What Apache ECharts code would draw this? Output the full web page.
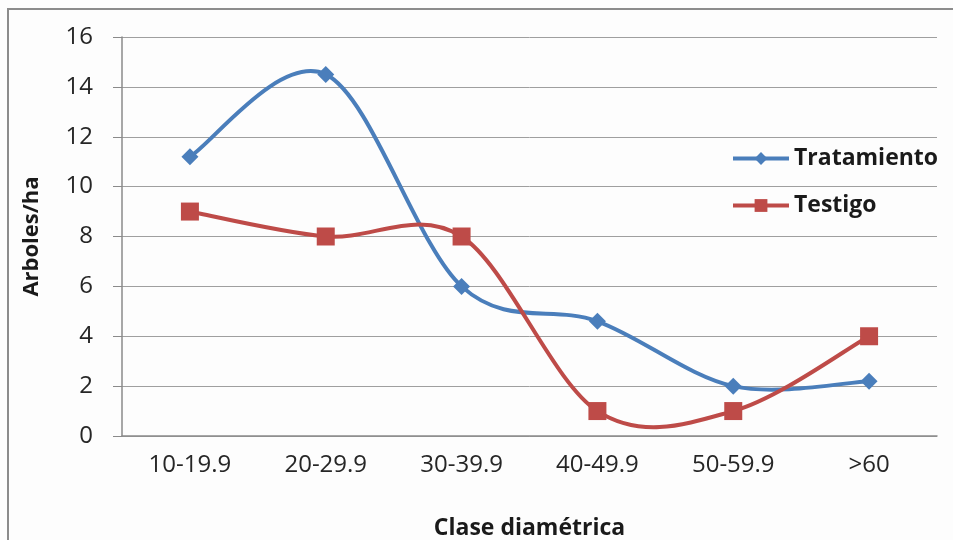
<!DOCTYPE html>
<html>
<head>
<meta charset="utf-8">
<script src="https://cdn.jsdelivr.net/npm/echarts@6/dist/echarts.min.js"></script>
<style>
  html, body { margin: 0; padding: 0; background: #fff; }
  #main { width: 953px; height: 540px; }
</style>
</head>
<body>
<div id="main"></div>
<script>
var categories = ['10-19.9', '20-29.9', '30-39.9', '40-49.9', '50-59.9', '>60'];
var tratamiento = [11.2, 14.5, 6, 4.6, 2, 2.2];
var testigo = [9, 8, 8, 1, 1, 4];

var blue = '#4a7ebb';
var red = '#be4b48';
var font = '"Open Sans", "Liberation Sans", sans-serif';

// excel-style smoothed curve: one bezier piece per segment
function curveSeries(name, values, color) {
  return {
    name: name + ' curve',
    type: 'custom',
    z: 2,
    silent: true,
    encode: { x: 0, y: 1 },
    data: values.map(function (v, i) { return [i, v]; }),
    renderItem: function (params, api) {
      var i = params.dataIndex;
      if (i >= values.length - 1) return null;
      var pts = values.map(function (v, k) { return api.coord([k, v]); });
      var p0 = pts[Math.max(i - 1, 0)];
      var p1 = pts[i];
      var p2 = pts[i + 1];
      var p3 = pts[Math.min(i + 2, pts.length - 1)];
      return {
        type: 'bezierCurve',
        shape: {
          x1: p1[0], y1: p1[1],
          x2: p2[0], y2: p2[1],
          cpx1: p1[0] + (p2[0] - p0[0]) / 6,
          cpy1: p1[1] + (p2[1] - p0[1]) / 6,
          cpx2: p2[0] - (p3[0] - p1[0]) / 6,
          cpy2: p2[1] - (p3[1] - p1[1]) / 6
        },
        style: { stroke: color, lineWidth: 4, fill: null }
      };
    }
  };
}

var chart = echarts.init(document.getElementById('main'));

chart.setOption({
  animation: false,
  backgroundColor: '#fdfdfd',
  textStyle: { fontFamily: font },
  graphic: [{
    type: 'rect',
    shape: { x: 8, y: 9, width: 1000, height: 600 },
    style: { fill: 'none', stroke: '#8c8c8c', lineWidth: 2 },
    silent: true
  }],
  grid: { left: 122, right: 16, top: 37, bottom: 104, outerBoundsMode: 'none' },
  legend: {
    orient: 'vertical',
    left: 726,
    top: 142,
    itemGap: 24,
    itemWidth: 56,
    itemHeight: 16,
    textStyle: { fontSize: 23, fontWeight: 'bold', color: '#1a1a1a', fontFamily: font },
    data: [
      { name: 'Tratamiento', lineStyle: { opacity: 1, width: 4 } },
      { name: 'Testigo', lineStyle: { opacity: 1, width: 4 } }
    ]
  },
  xAxis: {
    type: 'category',
    data: categories,
    name: 'Clase diamétrica',
    nameLocation: 'middle',
    nameGap: 81,
    nameTextStyle: { fontSize: 23, fontWeight: 'bold', color: '#1a1a1a' },
    axisLine: { lineStyle: { color: '#8a8a8a', width: 1.5 } },
    axisTick: { length: 8, lineStyle: { color: '#8a8a8a' } },
    axisLabel: { fontSize: 24, color: '#262626', margin: 17 }
  },
  yAxis: {
    type: 'value',
    min: 0,
    max: 16,
    interval: 2,
    name: 'Arboles/ha',
    nameLocation: 'middle',
    nameGap: 79,
    nameTextStyle: { fontSize: 22, fontWeight: 'bold', color: '#1a1a1a' },
    axisLine: { show: true, lineStyle: { color: '#8a8a8a', width: 1.5 } },
    axisTick: { show: true, length: 9, lineStyle: { color: '#8a8a8a' } },
    axisLabel: { fontSize: 24, color: '#262626', margin: 29 },
    splitLine: { lineStyle: { color: '#9f9f9f', width: 1 } }
  },
  series: [
    curveSeries('Tratamiento', tratamiento, blue),
    curveSeries('Testigo', testigo, red),
    {
      name: 'Tratamiento',
      type: 'line',
      z: 3,
      data: tratamiento,
      symbol: 'diamond',
      symbolSize: 17,
      lineStyle: { color: blue, width: 4, opacity: 0 },
      itemStyle: { color: blue }
    },
    {
      name: 'Testigo',
      type: 'line',
      z: 4,
      data: testigo,
      symbol: 'rect',
      symbolSize: 18,
      lineStyle: { color: red, width: 4, opacity: 0 },
      itemStyle: { color: red }
    }
  ]
});
</script>
</body>
</html>
